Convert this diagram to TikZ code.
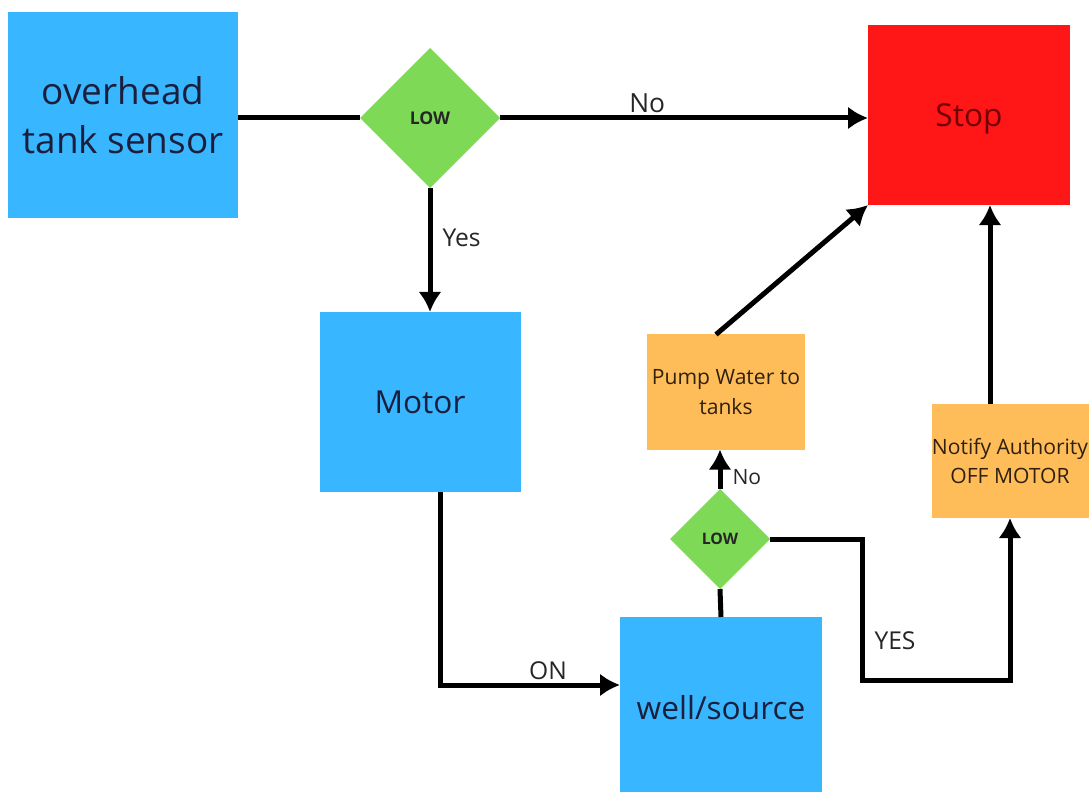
\documentclass[tikz,border=0pt]{standalone}
\usepackage{fontspec}
\setmainfont{Open Sans}
\usetikzlibrary{arrows.meta,shapes.geometric}
\definecolor{skyblue}{HTML}{38B6FF}
\definecolor{lowgreen}{HTML}{7ED957}
\definecolor{stopred}{HTML}{FF1616}
\definecolor{pumporange}{HTML}{FFBD59}
\definecolor{navytext}{HTML}{1B1F3B}

\begin{document}
\begin{tikzpicture}[x=0.2mm,y=-0.2mm,>={Latex[length=4mm,width=4.6mm]},line width=1mm,
  every node/.style={outer sep=0pt},
  blk/.style={fill=skyblue,text=navytext,align=center,inner sep=0pt},
  lowdec/.style={diamond,fill=lowgreen,inner sep=0pt,aspect=1,font=\bfseries,text=black!85},
  task/.style={fill=pumporange,text=black!75!brown,align=center,inner sep=0pt,font=\fontsize{12pt}{17pt}\selectfont},
  lbl/.style={font=\fontsize{14pt}{17pt}\selectfont,text=black!85,inner sep=1mm}]
\useasboundingbox (0,0) rectangle (1089,792);
\node[blk,minimum width=46mm,minimum height=41.2mm,font=\fontsize{21pt}{28pt}\selectfont] (sensor) at (123,115) {overhead\\tank sensor};
\node[lowdec,minimum width=28mm,minimum height=28mm,font=\bfseries\fontsize{10pt}{12pt}\selectfont] (low1) at (430,118) {LOW};
\node[fill=stopred,text=red!45!black,minimum width=40.4mm,minimum height=36mm,text depth=0pt,font=\fontsize{18pt}{22pt}\selectfont] (stop) at (969,115) {Stop};
\node[blk,minimum width=40.2mm,minimum height=36mm,font=\fontsize{18pt}{22pt}\selectfont] (motor) at (420,402) {Motor};
\node[blk,minimum width=40.4mm,minimum height=36.4mm,font=\fontsize{18pt}{22pt}\selectfont] (well) at (721,708) {well/source};
\node[lowdec,minimum width=20mm,minimum height=20mm,font=\bfseries\fontsize{9pt}{10pt}\selectfont] (low2) at (720,539) {LOW};
\node[task,minimum width=31.6mm,minimum height=23mm] (pump) at (726,392) {Pump Water to\\tanks};
\node[task,minimum width=31.4mm,minimum height=22.8mm] (notify) at (1010,461) {Notify Authority\\OFF MOTOR};
\coordinate (yesbend) at (862,680);

\draw (low1.west -| sensor.east) -- (low1.west);
\draw[->] (low1.east) -- (low1.east -| stop.west) node[lbl,pos=0.4,above,font=\fontsize{15pt}{18pt}\selectfont]{No};
\draw[->] (low1.south) -- (low1.south |- motor.north) node[lbl,pos=0.4,right=1.5mm]{Yes};
\draw[->] ([xshift=4mm]motor.south) |- ([yshift=4.6mm]well.west) node[lbl,pos=0.8,above]{ON};
\draw (well.north) -- (low2.south);
\draw[->] (low2.north) -- (low2.north |- pump.south) node[lbl,pos=0.3,right=1.5mm,font=\fontsize{12pt}{14pt}\selectfont]{No};
\draw[->] ([xshift=-2mm]pump.north) -- (stop.south west);
\draw[->] (low2.east) -- (low2.east -| yesbend) -- (yesbend) node[lbl,pos=0.72,right=1.5mm]{YES} -| (notify.south);
\draw[->] ([xshift=-4mm]notify.north) -- ([xshift=-4mm]notify.north |- stop.south);
\end{tikzpicture}
\end{document}
